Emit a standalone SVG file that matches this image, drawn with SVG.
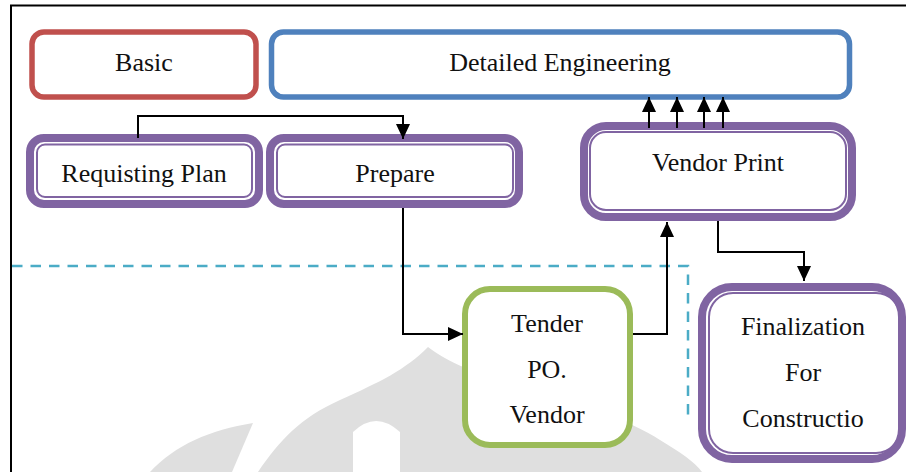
<svg xmlns="http://www.w3.org/2000/svg" width="906" height="472" viewBox="0 0 906 472">
<style>
  text { font-family: "Liberation Serif", "Times New Roman", "DejaVu Serif", serif; font-size: 26px; fill: #111; text-anchor: middle; }
  .box { fill: #ffffff; }
  .red { stroke: #c0504d; stroke-width: 5.5; }
  .blue { stroke: #4f81bd; stroke-width: 5.5; }
  .green { stroke: #9bbb59; stroke-width: 6; }
  .pout { stroke: #8064a2; stroke-width: 8; }
  .pin { fill: none; stroke: #8064a2; stroke-width: 2; }
  .conn { fill: none; stroke: #000; stroke-width: 2; }
  .wm { fill: #dfdfdf; }
</style>
<defs>
  <marker id="arrow" markerUnits="userSpaceOnUse" markerWidth="15" markerHeight="14" refX="15" refY="7" orient="auto">
    <path d="M0,0 L15,7 L0,14 Z" fill="#000"/>
  </marker>
</defs>
<rect x="0" y="0" width="906" height="472" fill="#ffffff"/>
<g id="watermark">
  <path class="wm" d="M428,347 C445,360 470,372 520,388 C580,405 630,420 660,440 C680,452 695,462 702,472 L258,472 C280,440 300,418 340,400 C380,382 405,370 428,347 Z"/>
  <path fill="#ffffff" d="M353,472 L353,432 Q376,410 400,432 L400,472 Z"/>
  <path class="wm" d="M253,423 L232,472 L150,472 C175,445 210,430 253,423 Z"/>
</g>
<g id="frame">
  <path d="M11,472 V5.5 H906" fill="none" stroke="#000" stroke-width="2"/>
</g>
<g id="boundary">
  <path d="M12,266 H688 V416" fill="none" stroke="#4bacc6" stroke-width="2.5" stroke-dasharray="10.5 8"/>
</g>
<g id="basic">
  <rect class="box red" x="32" y="32" width="224" height="65" rx="12"/>
  <text x="144" y="71">Basic</text>
</g>
<g id="detailed-engineering">
  <rect class="box blue" x="271.5" y="32" width="578" height="65" rx="12"/>
  <text x="560" y="71">Detailed Engineering</text>
</g>
<g id="requisting-plan">
  <rect class="box pout" x="30" y="138" width="229" height="66" rx="14"/>
  <rect class="pin" x="37" y="144.5" width="215" height="52.5" rx="8"/>
  <text x="144" y="182">Requisting Plan</text>
</g>
<g id="prepare">
  <rect class="box pout" x="270" y="138" width="249" height="66" rx="14"/>
  <rect class="pin" x="277" y="144.5" width="236" height="52.5" rx="8"/>
  <text x="395" y="182">Prepare</text>
</g>
<g id="vendor-print">
  <rect class="box pout" x="584" y="126" width="268" height="91" rx="22"/>
  <rect class="pin" x="590" y="132" width="256" height="78" rx="16"/>
  <text x="718" y="171">Vendor Print</text>
</g>
<g id="tender">
  <rect class="box green" x="465" y="289" width="165" height="156" rx="25"/>
  <text x="547" y="332">Tender</text>
  <text x="547" y="378">PO.</text>
  <text x="547" y="423">Vendor</text>
</g>
<g id="finalization">
  <rect class="box pout" x="702" y="287" width="200" height="172" rx="30"/>
  <rect class="pin" x="709" y="293" width="191" height="160" rx="24"/>
  <text x="803" y="335">Finalization</text>
  <text x="803" y="381">For</text>
  <text x="803" y="427">Constructio</text>
</g>
<g id="connectors">
  <path class="conn" d="M138,138 V116 H403 V139" marker-end="url(#arrow)"/>
  <path class="conn" d="M403,208 V334 H463" marker-end="url(#arrow)"/>
  <path class="conn" d="M633,334 H667 V222" marker-end="url(#arrow)"/>
  <path class="conn" d="M718,221 V252 H804 V281" marker-end="url(#arrow)"/>
  <path class="conn" d="M649,128 V97" marker-end="url(#arrow)"/>
  <path class="conn" d="M677,128 V97" marker-end="url(#arrow)"/>
  <path class="conn" d="M704,128 V97" marker-end="url(#arrow)"/>
  <path class="conn" d="M723,128 V97" marker-end="url(#arrow)"/>
</g>
</svg>
